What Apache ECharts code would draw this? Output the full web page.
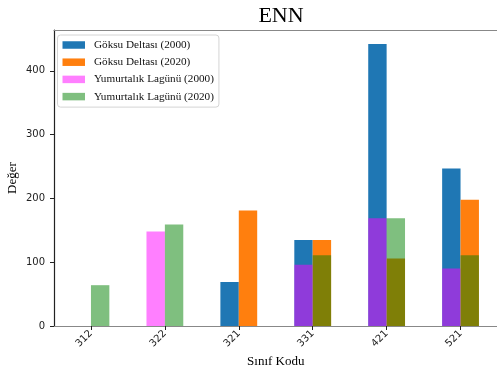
<!DOCTYPE html>
<html>
<head>
<meta charset="utf-8">
<script src="https://cdn.jsdelivr.net/npm/echarts@6/dist/echarts.min.js"></script>
<style>
  html, body { margin: 0; padding: 0; background: #fff; }
  #chart { width: 497px; height: 374px; }
</style>
</head>
<body>
<div id="chart"></div>
<script>
// Land-cover class codes on the x axis
const categories = ['312', '322', '321', '331', '421', '521'];

// ENN values per class, two sites and two years
const goksu2000 = [null, null, 69, 135, 442, 247];
const goksu2020 = [null, null, 181, 135, 106, 198];
const yumurtalik2000 = [null, 148, null, 96, 169, 90];
const yumurtalik2020 = [64, 159, null, 111, 169, 111];

const yTicks = [0, 100, 200, 300, 400];

const serif = 'Liberation Serif';
const sans = 'DejaVu Sans';
const BAR_W = 18.4;

const chart = echarts.init(document.getElementById('chart'), null, { renderer: 'canvas' });

const baseX = {
  type: 'category',
  data: categories,
  boundaryGap: true
};

chart.setOption({
  animation: false,
  backgroundColor: '#fff',
  title: {
    text: 'ENN',
    left: 276,
    textAlign: 'center',
    top: 0,
    textStyle: { fontFamily: serif, fontSize: 22, fontWeight: 'normal', color: '#000' }
  },
  legend: {
    orient: 'vertical',
    left: 57.5,
    top: 35,
    itemWidth: 22.5,
    itemHeight: 7.5,
    itemGap: 4.2,
    padding: [3.5, 5, 4, 5],
    borderColor: '#d4d4d4',
    borderWidth: 1,
    borderRadius: 3,
    backgroundColor: 'rgba(255,255,255,0.8)',
    icon: 'rect',
    textStyle: { fontFamily: serif, fontSize: 11.2, lineHeight: 13, color: '#111', padding: [0, 0, 0, 4] },
    data: ['Göksu Deltası (2000)', 'Göksu Deltası (2020)', 'Yumurtalık Lagünü (2000)', 'Yumurtalık Lagünü (2020)']
  },
  grid: { left: 54, top: 30, width: 443.5, bottom: 48, containLabel: false, outerBoundsMode: 'none' },
  xAxis: [
    Object.assign({}, baseX, {
      position: 'bottom',
      name: 'Sınıf Kodu',
      nameLocation: 'middle',
      nameGap: 29,
      nameMoveOverlap: false,
      nameTextStyle: { fontFamily: serif, fontSize: 13, color: '#000' },
      axisLine: { show: true, lineStyle: { color: '#888', width: 1.2 } },
      axisTick: { show: true, alignWithLabel: true, length: 4, lineStyle: { color: '#222' } },
      axisLabel: { rotate: 45, margin: 6, fontFamily: sans, fontSize: 10, color: '#222' },
      splitLine: { show: false }
    }),
    Object.assign({}, baseX, {
      position: 'top',
      axisLine: { show: true, lineStyle: { color: '#888', width: 1.2 } },
      axisTick: { show: false },
      axisLabel: { show: false },
      splitLine: { show: false }
    })
  ],
  yAxis: {
    type: 'value',
    min: 0,
    max: 464.1,
    interval: 100,
    name: 'Değer',
    nameLocation: 'middle',
    nameGap: 35,
    nameMoveOverlap: false,
    nameTextStyle: { fontFamily: serif, fontSize: 13, color: '#000' },
    axisLine: { show: true, lineStyle: { color: '#222', width: 1.2 } },
    axisTick: { show: true, length: 4, customValues: yTicks, lineStyle: { color: '#222' } },
    axisLabel: { margin: 9, fontFamily: sans, fontSize: 10, color: '#222', customValues: yTicks },
    splitLine: { show: false }
  },
  series: [
    {
      name: 'Göksu Deltası (2000)', type: 'bar', xAxisIndex: 0,
      data: goksu2000, barWidth: BAR_W, barGap: 0,
      itemStyle: { color: '#1f77b4' }
    },
    {
      name: 'Göksu Deltası (2020)', type: 'bar', xAxisIndex: 0,
      data: goksu2020, barWidth: BAR_W, barGap: 0,
      itemStyle: { color: '#ff7f0e' }
    },
    {
      name: 'Yumurtalık Lagünü (2000)', type: 'bar', xAxisIndex: 1,
      data: yumurtalik2000, barWidth: BAR_W, barGap: 0,
      itemStyle: { color: 'rgba(255,0,255,0.5)' }
    },
    {
      name: 'Yumurtalık Lagünü (2020)', type: 'bar', xAxisIndex: 1,
      data: yumurtalik2020, barWidth: BAR_W, barGap: 0,
      itemStyle: { color: 'rgba(0,128,0,0.5)' }
    }
  ]
});
</script>
</body>
</html>
